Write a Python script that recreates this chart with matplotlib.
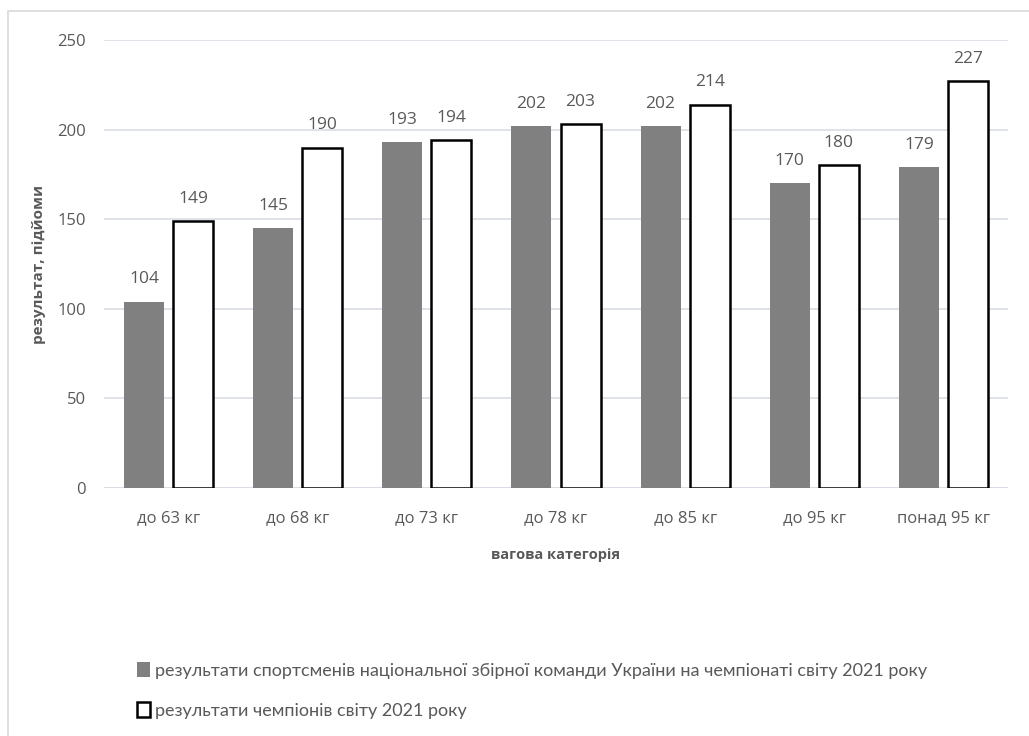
import matplotlib.pyplot as plt
from matplotlib.patches import Rectangle
import numpy as np

categories = ['до 63 кг', 'до 68 кг', 'до 73 кг', 'до 78 кг', 'до 85 кг', 'до 95 кг', 'понад 95 кг']
ukraine = [104, 145, 193, 202, 202, 170, 179]
champions = [149, 190, 194, 203, 214, 180, 227]
series_names = ['результати спортсменів національної збірної команди України на чемпіонаті світу 2021 року',
                'результати чемпіонів світу 2021 року']

plt.rcParams['font.family'] = ['Open Sans', 'DejaVu Sans']
txt = '#595959'

fig = plt.figure(figsize=(10.29, 7.36), dpi=100)
# outer chart border
fig.patches.append(Rectangle((8 / 1029, -0.1), 1.1, (736 - 11) / 736 + 0.1,
                             transform=fig.transFigure, fill=False,
                             edgecolor='#d9d9d9', linewidth=1.2))

ax = fig.add_axes([104 / 1029, 1 - 488 / 736, (1008 - 104) / 1029, (488 - 40) / 736])
x = np.arange(len(categories))
w = 0.31
b1 = ax.bar(x - 0.19, ukraine, w, color='#808080', label=series_names[0], zorder=3)
b2 = ax.bar(x + 0.19, champions, w, color='white', edgecolor='black', linewidth=1.8,
            label=series_names[1], zorder=3)

for bars, vals in ((b1, ukraine), (b2, champions)):
    for r, v in zip(bars, vals):
        ax.text(r.get_x() + r.get_width() / 2, v + 8, str(v), ha='center', va='bottom',
                fontsize=12.5, color=txt)

ax.set_xlim(-0.5, len(categories) - 0.5)
ax.set_ylim(0, 250)
ax.set_yticks(range(0, 251, 50))
ax.yaxis.grid(True, color='#d9dde5', linewidth=1.2, zorder=0)
for s in ax.spines.values():
    s.set_visible(False)
ax.axhline(0, color='#d9dde5', linewidth=1.5, zorder=2)
ax.tick_params(length=0, colors=txt, labelsize=12)
ax.tick_params(axis='y', pad=13)
ax.tick_params(axis='x', pad=16)
ax.set_xticks(x)
ax.set_xticklabels(categories)
ax.set_ylabel('результат, підйоми', fontsize=11, fontweight='bold', color=txt, labelpad=8)
ax.set_xlabel('вагова категорія', fontsize=10.5, fontweight='bold', color=txt, labelpad=16)

fig.legend(handles=[b1, b2], labels=series_names, loc='upper left',
           bbox_to_anchor=(121 / 1029, 1 - 646 / 736), frameon=False,
           prop={'family': ['Lato', 'DejaVu Sans'], 'size': 13},
           labelcolor=txt, handlelength=0.7, handleheight=0.9, handletextpad=0.3,
           labelspacing=1.3)

fig.savefig('out.png', dpi=100)
